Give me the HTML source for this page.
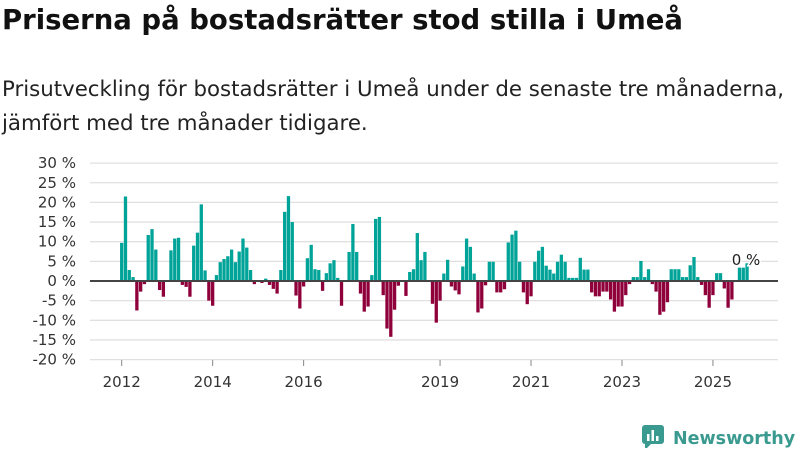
<!DOCTYPE html>
<html><head><meta charset="utf-8"><style>
body{margin:0;width:800px;height:450px;background:#fff;font-family:"DejaVu Sans","Liberation Sans",sans-serif;overflow:hidden;position:relative}
#title{position:absolute;left:2px;top:4px;font-size:27.5px;font-weight:bold;color:#111;margin:0;white-space:nowrap}
#sub{position:absolute;left:2px;top:73px;font-size:21.3px;line-height:34px;color:#222;white-space:nowrap}
svg{position:absolute;left:0;top:0}
#logo{position:absolute;left:641px;top:420px;font-size:17.5px;font-weight:bold;color:#3a9a8f;white-space:nowrap}
</style></head><body>
<h1 id="title">Priserna på bostadsrätter stod stilla i Umeå</h1>
<div id="sub">Prisutveckling för bostadsrätter i Umeå under de senaste tre månaderna,<br>jämfört med tre månader tidigare.</div>
<svg id="chart" width="800" height="450"></svg>
<div id="logo"><svg width="24" height="24" style="position:relative;top:4px;left:0"><rect x="1" y="1" width="22" height="19" rx="3" fill="#3a9a8f"/><polygon points="4,20 4,26 10,20" fill="#3a9a8f"/><rect x="6" y="10" width="2.5" height="7" fill="#fff"/><rect x="10.5" y="6" width="2.5" height="11" fill="#fff"/><rect x="15" y="12" width="2.5" height="5" fill="#fff"/></svg><span style="margin-left:8px">Newsworthy</span></div>
<script>
const values = [9.7,21.5,2.8,1,-7.5,-2.7,-0.8,11.7,13.2,8,-2.3,-4,0,7.8,10.8,11,-1,-1.5,-4,9,12.3,19.5,2.7,-5,-6.3,1.5,4.8,5.6,6.3,8,4.8,7.5,10.8,8.5,2.8,-0.8,0,-0.5,0.6,-1,-2,-3.2,
2.8,17.6,21.6,15,-3.7,-7,-1.4,5.8,9.2,3,2.8,-2.5,2,4.5,5.3,0.8,-6.3,0,7.4,14.5,7.4,-3.2,-7.8,-6.5,1.5,15.8,16.3,-3.6,-12.1,-14.2,-7.3,-1.2,0,-3.8,2.3,3,12.2,5.3,7.4,0,-5.8,-10.6,-5,
1.9,5.4,-1.4,-2.4,-3.4,3.7,10.8,8.7,1.9,-8,-7,-1.1,4.9,4.9,-2.9,-2.9,-2.1,9.8,11.8,12.8,4.9,-2.9,-5.9,-3.9,4.9,7.7,8.7,3.9,2.9,1.9,4.9,6.7,4.9,0.8,0.8,0.8,5.9,2.9,2.9,-2.9,-3.9,-3.9,
-2.7,-2.7,-4.7,-7.8,-6.5,-6.5,-3.6,-0.8,1,1,5.1,1,3,-0.8,-2.7,-8.6,-7.8,-5.4,3,3,3,1,1,4,6.1,1,-1,-3.6,-6.8,-3.6,2,2,-1.9,-6.8,-4.7,0,3.4,3.4,4.5];
const yTicks = [30,25,20,15,10,5,0,-5,-10,-15,-20];
const xTickYears = [2012,2014,2016,2019,2021,2023,2025];
const startYear = 2012;
const lastLabel = "0 %";

const NS="http://www.w3.org/2000/svg";
const svg=document.getElementById('chart');
const y=v=>281-v*3.93;
const x=i=>121.7+i*3.79;
function mk(t,a){const e=document.createElementNS(NS,t);for(const k in a)e.setAttribute(k,a[k]);svg.appendChild(e);return e;}
yTicks.forEach(t=>{
  const l=mk('line',{x1:90,x2:778,y1:y(t),y2:y(t),stroke:'#e0e0e0','stroke-width':1.3});
  
  
  const tx=mk('text',{x:76,y:y(t)+5,'text-anchor':'end','font-size':15,fill:'#333'});
  tx.textContent=t+' %';
  
  
});
values.forEach((v,i)=>{
  const r=mk('rect',{x:x(i)-1.65,width:3.3,y:v>=0?y(v):281,height:Math.abs(v)*3.93,fill:v>=0?'#00a398':'#8f003b'});
  
  
});
const z=mk('line',{x1:90,x2:778,y1:281,y2:281,stroke:'#444','stroke-width':2});


xTickYears.forEach(yr=>{
  const i=(yr-startYear)*12;
  const tk=mk('line',{x1:x(i),x2:x(i),y1:360,y2:366,stroke:'#888'});
  
  
  const tx=mk('text',{x:x(i),y:387,'text-anchor':'middle','font-size':15,fill:'#333'});
  tx.textContent=yr;
  
  
});
const n=values.length-1;
const lb=mk('text',{x:x(n)-1,y:265,'text-anchor':'middle','font-size':15,fill:'#222',stroke:'#fff','stroke-width':3,'paint-order':'stroke'});
lb.textContent=lastLabel;


</script>
</body></html>
